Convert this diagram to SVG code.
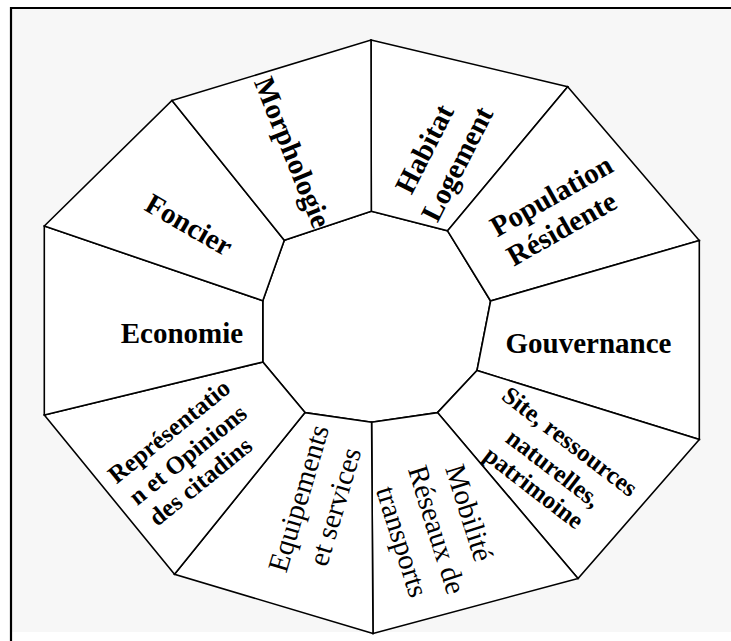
<svg xmlns="http://www.w3.org/2000/svg" width="731" height="641" viewBox="0 0 731 641">
<style>
.sec{fill:#fff;stroke:#000;stroke-width:1.6;stroke-linejoin:miter}
.b{font-family:"Liberation Serif","Times New Roman",serif;font-weight:bold;font-size:29px;fill:#000;text-anchor:middle}
.s{font-size:25px}
.r{font-family:"Liberation Serif","Times New Roman",serif;font-weight:normal;font-size:29px;fill:#000;text-anchor:middle}
</style>
<rect x="0" y="0" width="731" height="641" fill="#fff"/>
<rect x="11" y="8" width="720" height="624" fill="#f7f7f7"/>
<line x1="10" y1="8" x2="731" y2="8" stroke="#000" stroke-width="2.2"/>
<line x1="11" y1="7" x2="11" y2="641" stroke="#000" stroke-width="2.2"/>
<g id="center"><polygon class="sec" points="371.3,211.2 447.6,230.8 490.6,301 477,370.5 437.5,412.6 371.6,422.2 305,412.6 262.8,362 262.8,300.7 284.3,240.2"/></g>
<g id="habitat">
<polygon class="sec" points="371,40 567.7,86.7 447.6,230.8 371.3,211.2"/>
<text class="b" transform="translate(424.5,149) rotate(-63)" y="9.5">Habitat</text>
<text class="b" transform="translate(457.3,164) rotate(-63)" y="9.5">Logement</text>
</g>
<g id="population">
<polygon class="sec" points="567.7,86.7 699.3,240.5 490.6,301 447.6,230.8"/>
<g transform="translate(559.6,210.5) rotate(-29.5)">
<text class="b" x="-67.5" y="-7.3" style="text-anchor:start">Population</text>
<text class="b" x="-67.5" y="26.3" style="text-anchor:start">Résidente</text>
</g>
</g>
<g id="gouvernance">
<polygon class="sec" points="699.3,240.5 699.3,439.5 477,370.5 490.6,301"/>
<text class="b" x="588.5" y="353">Gouvernance</text>
</g>
<g id="site">
<polygon class="sec" points="699.3,439.5 578,578.5 437.5,412.6 477,370.5"/>
<text class="b s" transform="translate(569.9,441.6) rotate(37.5)" y="8.3">Site, ressources</text>
<text class="b s" transform="translate(553.6,468.2) rotate(37.5)" y="8.3">naturelles,</text>
<text class="b s" transform="translate(533.8,487.6) rotate(37.5)" y="8.3">patrimoine</text>
</g>
<g id="mobilite">
<polygon class="sec" points="578,578.5 373,633.5 371.6,422.2 437.5,412.6"/>
<text class="r" transform="translate(469.2,512.9) rotate(72.5)" y="9.5">Mobilité</text>
<text class="r" transform="translate(436.7,529.7) rotate(72.5)" y="9.5">Réseaux de</text>
<text class="r" transform="translate(402,541.7) rotate(72.5)" y="9.5">transports</text>
</g>
<g id="equipements">
<polygon class="sec" points="373,633.5 174.5,574.3 305,412.6 371.6,422.2"/>
<text class="r" transform="translate(298.7,498.4) rotate(-73.5)" y="9.5">Equipements</text>
<text class="r" transform="translate(335,506.7) rotate(-73.5)" y="9.5">et services</text>
</g>
<g id="representation">
<polygon class="sec" points="174.5,574.3 44.3,415 262.8,362 305,412.6"/>
<text class="b s" transform="translate(169,431.3) rotate(-39)" y="8.3">Représentatio</text>
<text class="b s" transform="translate(187.7,454.8) rotate(-39)" y="8.3">n et Opinions</text>
<text class="b s" transform="translate(200.4,481.4) rotate(-39)" y="8.3">des citadins</text>
</g>
<g id="economie">
<polygon class="sec" points="44.3,415 44.3,226 262.8,300.7 262.8,362"/>
<text class="b" x="182" y="343">Economie</text>
</g>
<g id="foncier">
<polygon class="sec" points="44.3,226 172,100.5 284.3,240.2 262.8,300.7"/>
<text class="b" transform="translate(189,225) rotate(30)" y="9.5">Foncier</text>
</g>
<g id="morphologie">
<polygon class="sec" points="172,100.5 371,40 371.3,211.2 284.3,240.2"/>
<text class="b" transform="translate(292.5,152.5) rotate(68)" y="9.5">Morphologie</text>
</g>
</svg>
